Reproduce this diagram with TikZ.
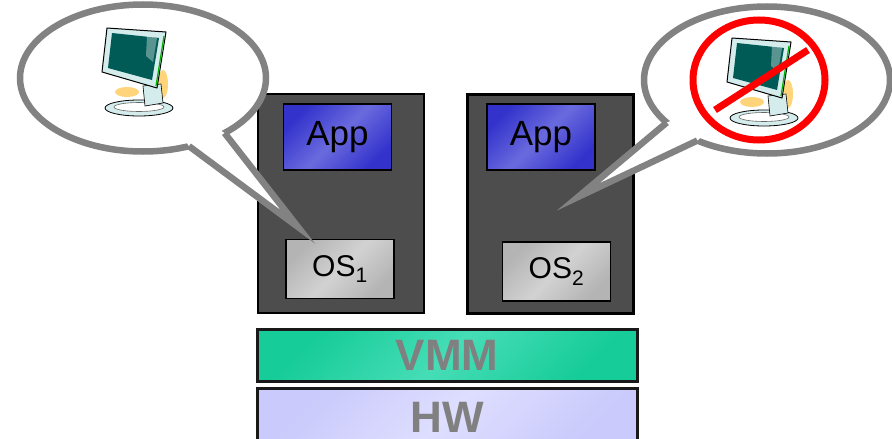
\documentclass[tikz,border=0pt]{standalone}
\usepackage{fontspec}
\setmainfont{Liberation Sans}
\usetikzlibrary{calc,shapes.geometric}

\definecolor{vmgray}{HTML}{4D4D4D}
\definecolor{bubblegray}{HTML}{828282}
\definecolor{appdark}{HTML}{3333CC}
\definecolor{applight}{HTML}{6A6ADE}
\definecolor{osdark}{HTML}{B4B4B4}
\definecolor{oslight}{HTML}{D2D2D2}
\definecolor{vmmdark}{HTML}{16CC98}
\definecolor{vmmlight}{HTML}{46DDB6}
\definecolor{hwdark}{HTML}{CACAFC}
\definecolor{hwlight}{HTML}{DEDEFF}
\definecolor{labelgray}{HTML}{808080}
\definecolor{clipyellow}{HTML}{FFD47A}
\definecolor{screenteal}{HTML}{005B57}
\definecolor{framecyan}{HTML}{D4ECEC}

\tikzset{
  monitor/.pic={
    \fill[clipyellow] (20,64) ellipse [x radius=12, y radius=5];
    \fill[clipyellow] (56,56) ellipse [x radius=5, y radius=14];
    \filldraw[fill=framecyan,draw=black,line width=0.8pt] (32,80) ellipse [x radius=34, y radius=8];
    \filldraw[fill=white,draw=black!60,line width=0.6pt] (32,79) ellipse [x radius=25, y radius=4.5];
    \filldraw[fill=framecyan,draw=black,line width=0.6pt] (36,58) -- (54,56) -- (56,75) -- (38,78) -- cycle;
    \filldraw[fill=framecyan,draw=black,line width=1pt,line join=round] (0,0) -- (59,4) -- (50,60) -- (-5,44) -- cycle;
    \fill[screenteal] (5,5) -- (52,10) -- (45,52) -- (1,40) -- cycle;
    \fill[white,opacity=0.35] (40,8) -- (50,10) -- (46,34) -- (39,28) -- cycle;
    \draw[green!70!black,line width=1.2pt] (57,8) -- (49,58);
  }
}

\begin{document}
\begin{tikzpicture}[x=1pt,y=-1pt,
  vm/.style={draw=black,line width=2.5pt,fill=vmgray,inner sep=0pt,
    minimum width=166pt,minimum height=219pt},
  app/.style={draw=black,line width=1.5pt,inner sep=0pt,
    top color=appdark,bottom color=appdark,middle color=applight,shading angle=45,
    minimum width=108pt,minimum height=66pt,font=\fontsize{35pt}{35pt}\selectfont},
  os/.style={draw=black,line width=1.5pt,inner sep=0pt,
    top color=osdark,bottom color=osdark,middle color=oslight,shading angle=45,
    minimum width=108pt,minimum height=59pt,font=\fontsize{30pt}{30pt}\selectfont},
  layer/.style={draw=black!90,line width=3pt,inner sep=0pt,
    minimum width=380pt,text=labelgray,font=\fontsize{44pt}{44pt}\selectfont\bfseries},
  bubble/.style={ellipse,draw=bubblegray,line width=6.5pt,fill=white,inner sep=0pt,
    outer sep=0pt,minimum width=246pt,minimum height=147pt},
  tail/.style={draw=bubblegray,line width=6.5pt,line join=miter}]

\useasboundingbox (0,0) rectangle (892,439);

% guests
\node[vm] (vm1) at (341,203.5) {};
\node[vm] (vm2) at (550.5,204) {};
\node[app] (app1) at (337.5,137) {App};
\node[app] (app2) at (541,137) {App};
\node[os] (os1) at (340,269) {OS\textsubscript{1}};
\node[os] (os2) at (556.5,271.5) {OS\textsubscript{2}};

% host layers
\node[layer,minimum height=52pt,top color=vmmdark,bottom color=vmmdark,
  middle color=vmmlight,shading angle=45] (vmm) at (447,355) {VMM};
\node[layer,minimum height=58pt,top color=hwdark,bottom color=hwdark,
  middle color=hwlight,shading angle=45] (hw) at (447,417) {HW};

% speech bubbles
\node[bubble] (bubL) at (143,78) {};
\node[bubble] (bubR) at (767,80) {};
\coordinate (tipL) at (298,227);
\coordinate (tipR) at (578,197);

\fill[white] ($(bubL.-56)!0.2!(bubL.center)$) -- (bubL.-56) -- (tipL) -- (bubL.-34)
  -- ($(bubL.-34)!0.2!(bubL.center)$) -- cycle;
\draw[tail] (bubL.-56) -- (tipL) -- (bubL.-34);

\fill[white] ($(bubR.-157.6)!0.2!(bubR.center)$) -- (bubR.-157.6) -- (tipR) -- (bubR.-139.6)
  -- ($(bubR.-139.6)!0.2!(bubR.center)$) -- cycle;
\draw[tail] (bubR.-157.6) -- (tipR) -- (bubR.-139.6);

\pic at (107,28) {monitor};
\pic at (732,38) {monitor};

% no-entry sign
\coordinate (sign) at (759,80);
\draw[red,line width=7pt] (sign) ellipse [x radius=66, y radius=60];
\draw[red,line width=7pt] ($(sign)+(-44,30)$) -- ($(sign)+(49,-30)$);

\end{tikzpicture}
\end{document}
